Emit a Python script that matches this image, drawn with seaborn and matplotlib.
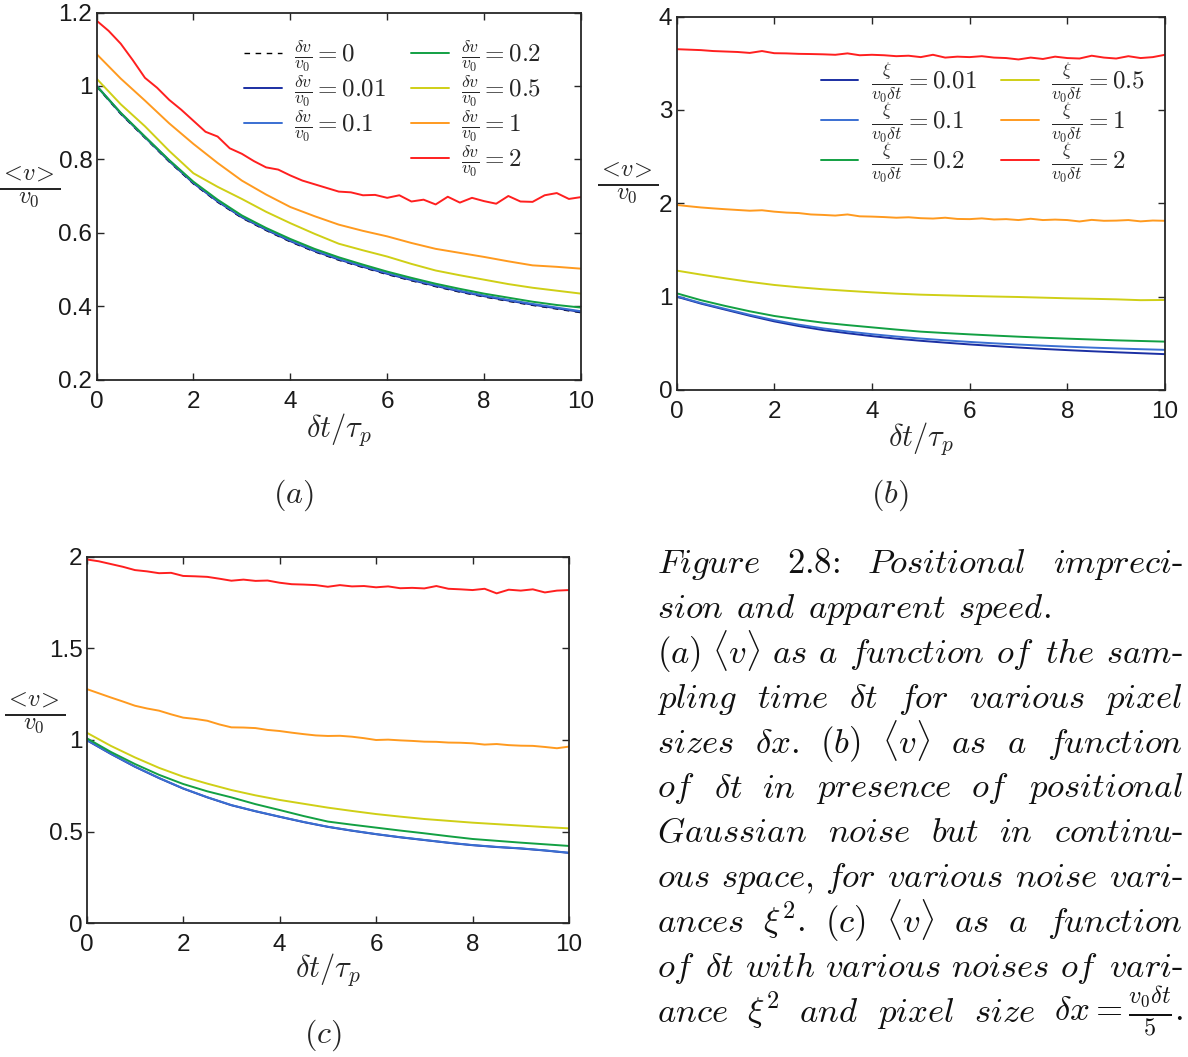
import numpy as np
import matplotlib
matplotlib.use("Agg")
import matplotlib.pyplot as plt
import seaborn as sns

# ---------------- data ----------------
x21 = [0, 0.5, 1, 1.5, 2, 2.5, 3, 3.5, 4, 4.5, 5, 5.5, 6, 6.5, 7, 7.5, 8, 8.5, 9, 9.5, 10]
x41 = [0, 0.25, 0.5, 0.75, 1, 1.25, 1.5, 1.75, 2, 2.25, 2.5, 2.75, 3, 3.25, 3.5, 3.75,
       4, 4.25, 4.5, 4.75, 5, 5.25, 5.5, 5.75, 6, 6.25, 6.5, 6.75, 7, 7.25, 7.5, 7.75,
       8, 8.25, 8.5, 8.75, 9, 9.25, 9.5, 9.75, 10]

# panel (a): pixel size dv/v0
a_labels = ["0", "0.01", "0.1", "0.2", "0.5", "1", "2"]
a_0 = [0.998, 0.923, 0.858, 0.793, 0.733, 0.683, 0.640, 0.606, 0.575, 0.548, 0.525,
       0.505, 0.486, 0.469, 0.453, 0.438, 0.425, 0.413, 0.402, 0.392, 0.382]
a_001 = [1.000, 0.925, 0.860, 0.795, 0.735, 0.685, 0.642, 0.608, 0.577, 0.550, 0.527,
         0.507, 0.488, 0.471, 0.455, 0.440, 0.427, 0.415, 0.404, 0.394, 0.384]
a_01 = [1.001, 0.926, 0.861, 0.797, 0.737, 0.687, 0.644, 0.610, 0.579, 0.552, 0.529,
        0.509, 0.490, 0.473, 0.457, 0.442, 0.429, 0.417, 0.406, 0.396, 0.386]
a_02 = [1.000, 0.927, 0.862, 0.798, 0.739, 0.690, 0.647, 0.613, 0.583, 0.556, 0.533,
        0.513, 0.494, 0.477, 0.461, 0.447, 0.434, 0.423, 0.412, 0.403, 0.396]
a_05 = [1.020, 0.950, 0.890, 0.823, 0.762, 0.725, 0.692, 0.657, 0.626, 0.597, 0.570,
        0.552, 0.535, 0.515, 0.497, 0.484, 0.472, 0.460, 0.450, 0.442, 0.434]
a_1 = [1.087, 1.020, 0.960, 0.898, 0.842, 0.790, 0.742, 0.704, 0.670, 0.645, 0.622,
       0.605, 0.590, 0.572, 0.556, 0.545, 0.534, 0.522, 0.511, 0.507, 0.502]
a_2 = [1.178, 1.150, 1.115, 1.070, 1.022, 0.995, 0.962, 0.935, 0.905, 0.875, 0.862,
       0.830, 0.815, 0.795, 0.778, 0.772, 0.756, 0.742, 0.732, 0.722, 0.712, 0.710,
       0.702, 0.703, 0.695, 0.702, 0.685, 0.690, 0.677, 0.698, 0.682, 0.695, 0.686,
       0.679, 0.700, 0.685, 0.684, 0.702, 0.708, 0.692, 0.697]

# panel (b): gaussian noise xi/(v0 dt)
b_labels = ["0.01", "0.1", "0.2", "0.5", "1", "2"]
b_001 = [1.000, 0.925, 0.860, 0.795, 0.735, 0.685, 0.642, 0.608, 0.577, 0.550, 0.527,
         0.507, 0.488, 0.471, 0.455, 0.440, 0.427, 0.415, 0.404, 0.394, 0.384]
b_01 = [1.005, 0.932, 0.868, 0.805, 0.748, 0.700, 0.660, 0.627, 0.598, 0.573, 0.551,
        0.532, 0.515, 0.500, 0.487, 0.475, 0.464, 0.454, 0.445, 0.437, 0.430]
b_02 = [1.036, 0.962, 0.900, 0.843, 0.793, 0.755, 0.721, 0.695, 0.671, 0.647, 0.625,
        0.610, 0.596, 0.583, 0.571, 0.560, 0.550, 0.541, 0.532, 0.525, 0.518]
b_05 = [1.279, 1.236, 1.196, 1.158, 1.125, 1.100, 1.079, 1.062, 1.046, 1.032, 1.021,
        1.014, 1.007, 1.001, 0.996, 0.989, 0.982, 0.977, 0.971, 0.962, 0.964]
b_1 = [1.982, 1.968, 1.955, 1.945, 1.936, 1.928, 1.920, 1.925, 1.910, 1.900, 1.895,
       1.880, 1.875, 1.868, 1.880, 1.860, 1.857, 1.852, 1.845, 1.850, 1.840, 1.836,
       1.845, 1.832, 1.830, 1.838, 1.826, 1.830, 1.820, 1.834, 1.820, 1.825, 1.820,
       1.805, 1.822, 1.812, 1.814, 1.820, 1.806, 1.815, 1.812]
b_2 = [3.650, 3.645, 3.640, 3.630, 3.625, 3.620, 3.610, 3.630, 3.607, 3.605, 3.600,
       3.598, 3.595, 3.590, 3.605, 3.585, 3.590, 3.585, 3.575, 3.580, 3.565, 3.590,
       3.560, 3.570, 3.565, 3.575, 3.560, 3.555, 3.540, 3.560, 3.545, 3.570, 3.555,
       3.550, 3.580, 3.560, 3.550, 3.575, 3.555, 3.565, 3.590]

# panel (c): noise + pixel size v0 dt / 5
c_001 = [0.999, 0.924, 0.854, 0.792, 0.735, 0.687, 0.644, 0.611, 0.581, 0.552, 0.526,
         0.505, 0.486, 0.469, 0.454, 0.439, 0.426, 0.416, 0.408, 0.397, 0.384]
c_01 = [1.000, 0.925, 0.855, 0.793, 0.736, 0.688, 0.645, 0.612, 0.582, 0.553, 0.527,
        0.506, 0.487, 0.470, 0.455, 0.440, 0.427, 0.417, 0.409, 0.398, 0.385]
c_02 = [1.010, 0.935, 0.869, 0.810, 0.760, 0.720, 0.687, 0.650, 0.618, 0.585, 0.555,
        0.538, 0.522, 0.506, 0.491, 0.475, 0.460, 0.450, 0.440, 0.431, 0.422]
c_05 = [1.040, 0.968, 0.905, 0.848, 0.800, 0.762, 0.727, 0.698, 0.673, 0.652, 0.631,
        0.613, 0.596, 0.582, 0.569, 0.559, 0.549, 0.541, 0.533, 0.525, 0.518]
c_1 = [1.278, 1.255, 1.232, 1.210, 1.187, 1.172, 1.160, 1.140, 1.122, 1.115, 1.105,
       1.085, 1.069, 1.068, 1.065, 1.055, 1.049, 1.040, 1.032, 1.025, 1.022, 1.023,
       1.018, 1.010, 1.000, 1.002, 0.998, 0.995, 0.991, 0.990, 0.986, 0.985, 0.982,
       0.975, 0.978, 0.972, 0.969, 0.968, 0.962, 0.955, 0.964]
c_2 = [1.985, 1.975, 1.960, 1.945, 1.927, 1.920, 1.910, 1.912, 1.895, 1.893, 1.890,
       1.880, 1.869, 1.875, 1.868, 1.870, 1.858, 1.850, 1.848, 1.845, 1.836, 1.845,
       1.838, 1.840, 1.833, 1.838, 1.828, 1.830, 1.827, 1.840, 1.825, 1.822, 1.818,
       1.825, 1.800, 1.820, 1.815, 1.822, 1.805, 1.815, 1.818]

# ---------------- style ----------------
sns.set_style("ticks")
plt.rcParams["font.family"] = ["Liberation Sans", "DejaVu Sans"]
plt.rcParams["mathtext.fontset"] = "cm"

C_DARKBLUE = "#1b2fa3"
C_BLUE = "#3a6fd2"
C_GREEN = "#12a043"
C_YELLOW = "#cfcf16"
C_ORANGE = "#ff9a1f"
C_RED = "#ff1f1f"
SPINE = "#262626"
LW = 1.4

W_PX, H_PX = 1188, 1057
fig = plt.figure(figsize=(W_PX / 100, H_PX / 100), dpi=100)


def add_axes_px(left, top, right, bottom):
    return fig.add_axes([left / W_PX, 1 - bottom / H_PX, (right - left) / W_PX, (bottom - top) / H_PX])


def style_axes(ax, yticks, ylabels, ylim):
    ax.set_xlim(0, 10)
    ax.set_ylim(*ylim)
    ax.set_xticks([0, 2, 4, 6, 8, 10])
    ax.set_xticklabels(["0", "2", "4", "6", "8", "10"])
    ax.set_yticks(yticks)
    ax.set_yticklabels(ylabels)
    ax.tick_params(direction="in", top=True, right=True, length=5, width=1.0,
                   color=SPINE, labelsize=17.5, labelcolor="#1a1a1a")
    ax.tick_params(axis="x", pad=8)
    ax.tick_params(axis="y", pad=3)
    for s in ax.spines.values():
        s.set_color(SPINE)
        s.set_linewidth(1.3)
        s.set_visible(True)
    ax.set_xlabel(r"$\delta t/\tau_p$", fontsize=22)
    ax.set_ylabel(r"$\frac{<\!v\!>}{v_0}$", fontsize=25, rotation=0, ha="center", va="center")


def draw(ax, xs, ys, color, ls="-"):
    sns.lineplot(x=xs, y=ys, ax=ax, color=color, linewidth=LW, linestyle=ls, legend=False)
    return ax.get_lines()[-1]


# ---- panel (a)
ax_a = add_axes_px(96.5, 12.5, 581, 379.5)
ha = []
ha.append(draw(ax_a, x21, a_001, C_DARKBLUE))
ha.append(draw(ax_a, x21, a_01, C_BLUE))
ha.append(draw(ax_a, x21, a_02, C_GREEN))
ha.append(draw(ax_a, x21, a_05, C_YELLOW))
ha.append(draw(ax_a, x21, a_1, C_ORANGE))
ha.append(draw(ax_a, x41, a_2, C_RED))
h0 = draw(ax_a, x21, a_0, "black", ls=(0, (4, 4)))
h0.set_linewidth(1.0)
h0.set_zorder(1)
style_axes(ax_a, [0.2, 0.4, 0.6, 0.8, 1.0, 1.2], ["0.2", "0.4", "0.6", "0.8", "1", "1.2"], (0.2, 1.2))
ax_a.xaxis.set_label_coords(0.5, -0.085)
ax_a.yaxis.set_label_coords(-0.137, 0.52)
blank = plt.Line2D([], [], color="none")
leg_handles = [h0, ha[0], ha[1], blank, ha[2], ha[3], ha[4], ha[5]]
leg_labels = [r"$\frac{\delta v}{v_0} = %s$" % v for v in a_labels[:3]] + [" "] + \
             [r"$\frac{\delta v}{v_0} = %s$" % v for v in a_labels[3:]]
ax_a.legend(leg_handles, leg_labels, ncol=2, loc="upper left", bbox_to_anchor=(0.305, 0.93),
            frameon=False, fontsize=18, handlelength=1.5, handletextpad=0.5,
            columnspacing=1.0, labelspacing=0.02, borderpad=0, borderaxespad=0)

# ---- panel (b)
ax_b = add_axes_px(676.5, 16.5, 1165, 390)
hb = []
hb.append(draw(ax_b, x21, b_001, C_DARKBLUE))
hb.append(draw(ax_b, x21, b_01, C_BLUE))
hb.append(draw(ax_b, x21, b_02, C_GREEN))
hb.append(draw(ax_b, x21, b_05, C_YELLOW))
hb.append(draw(ax_b, x41, b_1, C_ORANGE))
hb.append(draw(ax_b, x41, b_2, C_RED))
style_axes(ax_b, [0, 1, 2, 3, 4], ["0", "1", "2", "3", "4"], (0, 4))
ax_b.xaxis.set_label_coords(0.5, -0.08)
ax_b.yaxis.set_label_coords(-0.10, 0.55)
ax_b.legend(hb, [r"$\frac{\xi}{v_0\delta t} = %s$" % v for v in b_labels], ncol=2,
            loc="upper left", bbox_to_anchor=(0.295, 0.88), frameon=False, fontsize=18,
            handlelength=1.5, handletextpad=0.5, columnspacing=1.0, labelspacing=-0.15,
            borderpad=0, borderaxespad=0)

# ---- panel (c)
ax_c = add_axes_px(86.7, 556.7, 569, 923.3)
draw(ax_c, x21, c_001, C_DARKBLUE)
draw(ax_c, x21, c_01, C_BLUE)
draw(ax_c, x21, c_02, C_GREEN)
draw(ax_c, x21, c_05, C_YELLOW)
draw(ax_c, x41, c_1, C_ORANGE)
draw(ax_c, x41, c_2, C_RED)
style_axes(ax_c, [0, 0.5, 1, 1.5, 2], ["0", "0.5", "1", "1.5", "2"], (0, 2))
ax_c.xaxis.set_label_coords(0.5, -0.075)
ax_c.yaxis.set_label_coords(-0.108, 0.57)

# ---- sub-figure labels
def fig_text_px(x, y, s, **kw):
    return fig.text(x / W_PX, 1 - y / H_PX, s, **kw)

fig_text_px(293, 495, r"$\mathit{(a)}$", fontsize=23, ha="center", va="center")
fig_text_px(890, 495, r"$\mathit{(b)}$", fontsize=23, ha="center", va="center")
fig_text_px(323, 1035, r"$\mathit{(c)}$", fontsize=23, ha="center", va="center")

# ---- caption (justified lines)
caption_lines = [
    [r"$\mathit{Figure}$", r"$\text{2.8:}$", r"$\mathit{Positional}$", r"$\mathit{impreci}\text{-}$"],
    [r"$\mathit{sion}$", r"$\mathit{and}$", r"$\mathit{apparent}$", r"$\mathit{speed.}$"],
    [r"$\mathit{(a)}$", r"$\langle v\rangle$", r"$\mathit{as}$", r"$\mathit{a}$", r"$\mathit{function}$",
     r"$\mathit{of}$", r"$\mathit{the}$", r"$\mathit{sam}\text{-}$"],
    [r"$\mathit{pling}$", r"$\mathit{time}$", r"$\delta t$", r"$\mathit{for}$", r"$\mathit{various}$",
     r"$\mathit{pixel}$"],
    [r"$\mathit{sizes}$", r"$\delta x.$", r"$\mathit{(b)}$", r"$\langle v\rangle$", r"$\mathit{as}$",
     r"$\mathit{a}$", r"$\mathit{function}$"],
    [r"$\mathit{of}$", r"$\delta t$", r"$\mathit{in}$", r"$\mathit{presence}$", r"$\mathit{of}$",
     r"$\mathit{positional}$"],
    [r"$\mathit{Gaussian}$", r"$\mathit{noise}$", r"$\mathit{but}$", r"$\mathit{in}$",
     r"$\mathit{continu}\text{-}$"],
    [r"$\mathit{ous}$", r"$\mathit{space,}$", r"$\mathit{for}$", r"$\mathit{various}$", r"$\mathit{noise}$",
     r"$\mathit{vari}\text{-}$"],
    [r"$\mathit{ances}$", r"$\xi^2.$", r"$\mathit{(c)}$", r"$\langle v\rangle$", r"$\mathit{as}$",
     r"$\mathit{a}$", r"$\mathit{function}$"],
    [r"$\mathit{of}$", r"$\delta t$", r"$\mathit{with}$", r"$\mathit{various}$", r"$\mathit{noises}$",
     r"$\mathit{of}$", r"$\mathit{vari}\text{-}$"],
    [r"$\mathit{ance}$", r"$\xi^2$", r"$\mathit{and}$", r"$\mathit{pixel}$", r"$\mathit{size}$",
     r"$\delta x = \frac{v_0\delta t}{5}.$"],
]
justify = [True, False, True, True, True, True, True, True, True, True, True]
CAP_LEFT, CAP_RIGHT = 657, 1183
CAP_BASE0, CAP_STEP = 573, 44.9
CAP_FS = 25

renderer = fig.canvas.get_renderer()
for i, words in enumerate(caption_lines):
    yb = CAP_BASE0 + i * CAP_STEP
    texts = [fig_text_px(CAP_LEFT, yb, w, fontsize=CAP_FS, ha="left", va="baseline", color="#111111")
             for w in words]
    widths = [t.get_window_extent(renderer=renderer).width for t in texts]
    total = sum(widths)
    natural = CAP_FS * 100 / 72 * 0.36
    if justify[i] and len(words) > 1:
        gap = (CAP_RIGHT - CAP_LEFT - total) / (len(words) - 1)
    else:
        gap = natural
    x = CAP_LEFT
    for t, w in zip(texts, widths):
        t.set_x(x / W_PX)
        x += w + gap

fig.savefig("out.png", dpi=100)
